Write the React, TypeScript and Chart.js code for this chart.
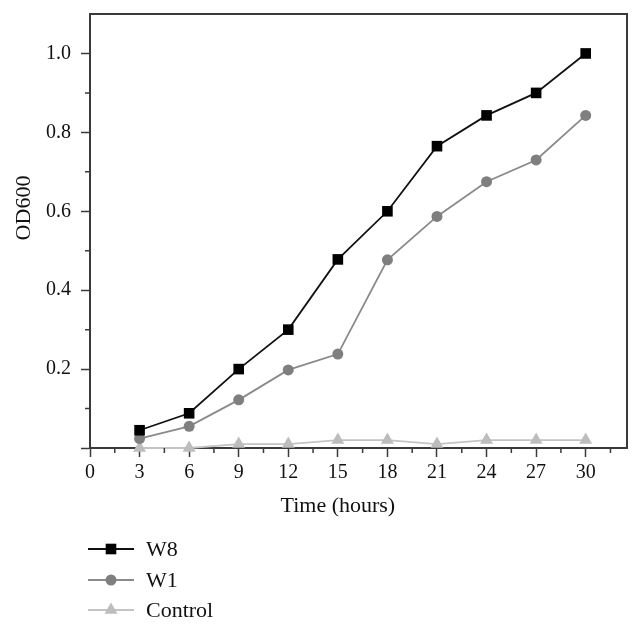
import React, { useEffect, useRef } from "react";
import { Chart, registerables } from "chart.js";

Chart.register(...registerables);

const hours = [3, 6, 9, 12, 15, 18, 21, 24, 27, 30];
const w8 = [0.045, 0.088, 0.2, 0.3, 0.478, 0.6, 0.765, 0.843, 0.9, 1.0];
const w1 = [0.024, 0.055, 0.122, 0.198, 0.238, 0.477, 0.587, 0.675, 0.73, 0.843];
const control = [0, 0, 0.01, 0.01, 0.02, 0.02, 0.01, 0.02, 0.02, 0.02];
const seriesNames = ["W8", "W1", "Control"];
const xTitle = "Time (hours)";
const yTitle = "OD600";

const FONT = "'Liberation Serif', 'Times New Roman', serif";
const AXIS = "#3a3a3a";

function drawPt(ctx: CanvasRenderingContext2D, style: string, r: number, x: number, y: number) {
  ctx.beginPath();
  if (style === "rect") {
    const s = Math.SQRT1_2 * r;
    ctx.rect(x - s, y - s, 2 * s, 2 * s);
  } else if (style === "circle") {
    ctx.arc(x, y, r, 0, Math.PI * 2);
  } else {
    const a = -Math.PI / 2;
    for (let k = 0; k < 3; k++) {
      const ang = a + (k * 2 * Math.PI) / 3;
      const px = x + Math.cos(ang) * r;
      const py = y + Math.sin(ang) * r;
      if (k === 0) ctx.moveTo(px, py);
      else ctx.lineTo(px, py);
    }
    ctx.closePath();
  }
  ctx.fill();
}

const decorPlugin = {
  id: "decor",
  afterDraw(chart: any) {
    const { ctx, chartArea, scales } = chart;
    const xs = scales.x;
    const ys = scales.y;
    ctx.save();
    ctx.strokeStyle = AXIS;
    ctx.lineWidth = 2;
    ctx.beginPath();
    ctx.moveTo(chartArea.left, chartArea.top);
    ctx.lineTo(chartArea.right, chartArea.top);
    ctx.lineTo(chartArea.right, chartArea.bottom);
    ctx.stroke();
    ctx.lineWidth = 1.5;
    ctx.beginPath();
    for (let v = 1.5; v < xs.max; v += 3) {
      const px = xs.getPixelForValue(v);
      ctx.moveTo(px, chartArea.bottom);
      ctx.lineTo(px, chartArea.bottom + 5);
    }
    for (let v = 0.1; v < ys.max - 0.05; v += 0.2) {
      const py = ys.getPixelForValue(v);
      ctx.moveTo(chartArea.left, py);
      ctx.lineTo(chartArea.left - 5, py);
    }
    ctx.stroke();
    ctx.fillStyle = "#111";
    ctx.font = `22px ${FONT}`;
    ctx.textAlign = "center";
    ctx.textBaseline = "middle";
    const xc = (xs.getPixelForValue(0) + xs.getPixelForValue(30)) / 2;
    ctx.fillText(xTitle, xc, 506);
    ctx.save();
    ctx.translate(24, 208);
    ctx.rotate(-Math.PI / 2);
    ctx.fillText(yTitle, 0, 0);
    ctx.restore();
    const rows = [549, 580, 610];
    chart.data.datasets.forEach((ds: any, i: number) => {
      const y = rows[i];
      ctx.strokeStyle = ds.borderColor;
      ctx.lineWidth = 1.8;
      ctx.beginPath();
      ctx.moveTo(88, y);
      ctx.lineTo(134, y);
      ctx.stroke();
      ctx.fillStyle = ds.pointBackgroundColor;
      drawPt(ctx, ds.pointStyle, ds.pointRadius, 111, y);
      ctx.fillStyle = "#111";
      ctx.textAlign = "left";
      ctx.font = `22px ${FONT}`;
      ctx.fillText(ds.label, 146, y + 1);
    });
    ctx.restore();
  },
};

export default function App() {
  const ref = useRef<HTMLCanvasElement>(null);
  useEffect(() => {
    const toPts = (arr: number[]) => hours.map((h, i) => ({ x: h, y: arr[i] }));
    const chart = new Chart(ref.current as HTMLCanvasElement, {
      type: "line",
      data: {
        datasets: [
          {
            label: seriesNames[0],
            data: toPts(w8),
            borderColor: "#111111",
            backgroundColor: "#000000",
            pointBackgroundColor: "#000000",
            pointBorderWidth: 0,
            pointStyle: "rect",
            pointRadius: 7.5,
            borderWidth: 1.8,
            clip: false,
          },
          {
            label: seriesNames[1],
            data: toPts(w1),
            borderColor: "#8a8a8a",
            backgroundColor: "#7f7f7f",
            pointBackgroundColor: "#7f7f7f",
            pointBorderWidth: 0,
            pointStyle: "circle",
            pointRadius: 5.5,
            borderWidth: 1.8,
            clip: false,
          },
          {
            label: seriesNames[2],
            data: toPts(control),
            borderColor: "#c4c4c4",
            backgroundColor: "#bdbdbd",
            pointBackgroundColor: "#bdbdbd",
            pointBorderWidth: 0,
            pointStyle: "triangle",
            pointRadius: 7.5,
            borderWidth: 1.8,
            clip: false,
          },
        ] as any,
      },
      options: {
        responsive: false,
        animation: false,
        layout: { padding: { top: 14, right: 14, left: 0, bottom: 0 } },
        plugins: { legend: { display: false }, tooltip: { enabled: false } },
        elements: { line: { tension: 0 } },
        scales: {
          x: {
            type: "linear",
            min: 0,
            max: 32.5,
            afterFit: (s: any) => {
              s.height = 184;
              s.paddingLeft = 0;
              s.paddingRight = 0;
            },
            ticks: {
              stepSize: 3,
              includeBounds: false,
              padding: 4,
              color: "#111",
              font: { family: FONT, size: 20 },
              maxRotation: 0,
            },
            grid: { display: true, drawOnChartArea: false, tickLength: 9, color: AXIS, tickWidth: 1.5 },
            border: { display: true, color: AXIS, width: 2 },
          },
          y: {
            type: "linear",
            min: 0,
            max: 1.1,
            afterFit: (s: any) => {
              s.width = 90;
              s.paddingTop = 0;
              s.paddingBottom = 0;
            },
            ticks: {
              stepSize: 0.2,
              includeBounds: false,
              padding: 10,
              color: "#111",
              font: { family: FONT, size: 20 },
              callback: (v: any) => (Math.abs(v) < 1e-9 ? "" : Number(v).toFixed(1)),
            },
            grid: { display: true, drawOnChartArea: false, tickLength: 9, color: AXIS, tickWidth: 1.5 },
            border: { display: true, color: AXIS, width: 2 },
          },
        },
      } as any,
      plugins: [decorPlugin],
    });
    return () => chart.destroy();
  }, []);
  return (
    <div style={{ position: "fixed", left: 0, top: 0, width: 641, height: 632, background: "#fff" }}>
      <canvas ref={ref} width={641} height={632} style={{ display: "block" }} />
    </div>
  );
}
